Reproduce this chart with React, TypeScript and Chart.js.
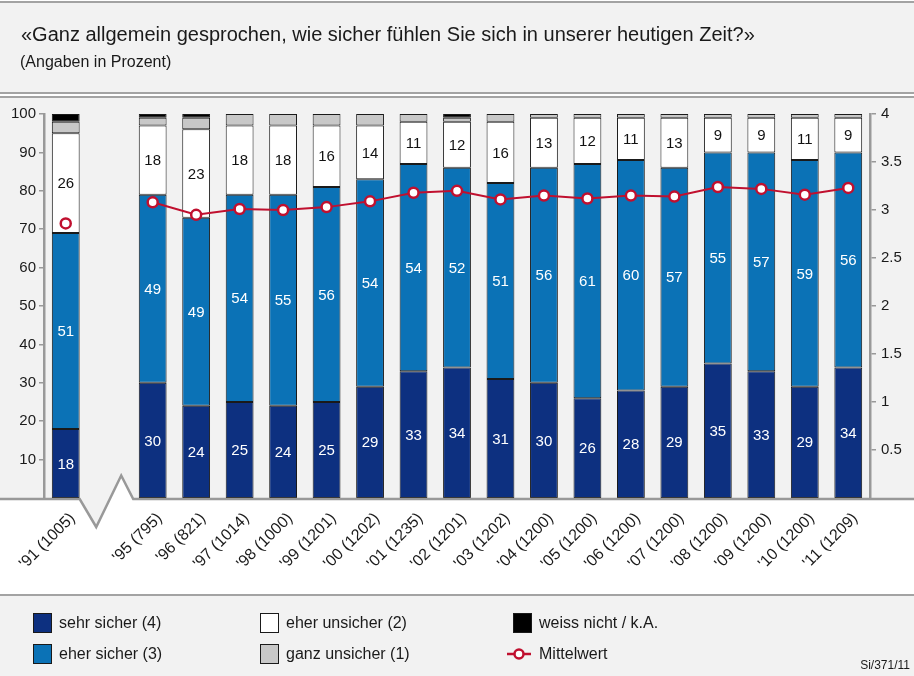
import React, { useEffect, useRef } from 'react';
import { Chart, registerables } from 'chart.js';

Chart.register(...registerables);

const categories = ["'91 (1005)", "", "'95 (795)", "'96 (821)", "'97 (1014)", "'98 (1000)", "'99 (1201)", "'00 (1202)", "'01 (1235)", "'02 (1201)", "'03 (1202)", "'04 (1200)", "'05 (1200)", "'06 (1200)", "'07 (1200)", "'08 (1200)", "'09 (1200)", "'10 (1200)", "'11 (1209)"];
const sehrSicher = [18, null, 30, 24, 25, 24, 25, 29, 33, 34, 31, 30, 26, 28, 29, 35, 33, 29, 34];
const eherSicher = [51, null, 49, 49, 54, 55, 56, 54, 54, 52, 51, 56, 61, 60, 57, 55, 57, 59, 56];
const eherUnsicher = [26, null, 18, 23, 18, 18, 16, 14, 11, 12, 16, 13, 12, 11, 13, 9, 9, 11, 9];
const ganzUnsicher = [3, null, 2, 3, 3, 3, 3, 3, 2, 1, 2, 1, 1, 1, 1, 1, 1, 1, 1];
const weissNicht = [2, null, 1, 1, null, null, null, null, null, 1, null, null, null, null, null, null, null, null, null];
const mittelwert = [2.86, null, 3.08, 2.95, 3.01, 3.0, 3.03, 3.09, 3.18, 3.2, 3.11, 3.15, 3.12, 3.15, 3.14, 3.24, 3.22, 3.16, 3.23];
const leftTicks = [10, 20, 30, 40, 50, 60, 70, 80, 90, 100];
const rightTicks = [0.5, 1, 1.5, 2, 2.5, 3, 3.5, 4];

const NAVY = '#0d3080';
const BLUE = '#0b72b6';
const GRAY = '#c8c8c8';
const RED = '#c0102f';
const FONT = '"Liberation Sans", Arial, sans-serif';

const decorPlugin = {
  id: 'decor',
  beforeDraw(chart: any) {
    const { ctx, width, height, chartArea } = chart;
    ctx.save();
    ctx.fillStyle = '#ffffff';
    ctx.fillRect(0, 0, width, height);
    ctx.fillStyle = '#f2f2f2';
    ctx.fillRect(0, 2, width, 91);
    ctx.fillRect(0, 97, width, chartArea.bottom + 1 - 97);
    ctx.fillRect(0, 595, width, height - 595);
    ctx.strokeStyle = '#a3a3a3';
    ctx.lineWidth = 2;
    [2, 93, 97, 595].forEach((y) => {
      ctx.beginPath();
      ctx.moveTo(0, y);
      ctx.lineTo(width, y);
      ctx.stroke();
    });
    ctx.restore();
  },
  afterDraw(chart: any) {
    const { ctx, width, chartArea, scales } = chart;
    const y0 = chartArea.bottom + 1;
    const cx = scales.x.getPixelForValue(1);
    const p1 = cx - 29.5, p2 = cx - 13, p3 = cx + 12, p4 = cx + 24;
    const dDown = 28, dUp = 23.5;
    const t = dDown / (dDown + dUp);
    const xc = p2 + t * (p3 - p2);
    ctx.save();
    ctx.fillStyle = '#f2f2f2';
    ctx.beginPath();
    ctx.moveTo(p1, y0);
    ctx.lineTo(p2, y0 + dDown);
    ctx.lineTo(xc, y0);
    ctx.closePath();
    ctx.fill();
    ctx.fillStyle = '#ffffff';
    ctx.beginPath();
    ctx.moveTo(xc, y0);
    ctx.lineTo(p3, y0 - dUp);
    ctx.lineTo(p4, y0);
    ctx.closePath();
    ctx.fill();
    ctx.strokeStyle = '#999999';
    ctx.lineWidth = 2.5;
    ctx.lineJoin = 'miter';
    ctx.beginPath();
    ctx.moveTo(0, y0);
    ctx.lineTo(p1, y0);
    ctx.lineTo(p2, y0 + dDown);
    ctx.lineTo(p3, y0 - dUp);
    ctx.lineTo(p4, y0);
    ctx.lineTo(width, y0);
    ctx.stroke();
    ctx.restore();
  },
};

const labelPlugin = {
  id: 'segLabels',
  afterDatasetsDraw(chart: any) {
    const { ctx } = chart;
    ctx.save();
    ctx.font = `15px ${FONT}`;
    ctx.textAlign = 'center';
    ctx.textBaseline = 'middle';
    [0, 1, 2].forEach((di) => {
      const meta = chart.getDatasetMeta(di);
      const data = chart.data.datasets[di].data;
      ctx.fillStyle = di === 2 ? '#111111' : '#ffffff';
      meta.data.forEach((el: any, i: number) => {
        const v = data[i];
        if (v == null) return;
        const y = (el.y + el.base) / 2;
        ctx.fillText(String(v), el.x, y + 1);
      });
    });
    ctx.restore();
  },
};

function ChartCanvas() {
  const ref = useRef<HTMLCanvasElement | null>(null);
  useEffect(() => {
    if (!ref.current) return;
    const barCommon = {
      type: 'bar' as const,
      borderColor: '#1a1a1a',
      borderWidth: 1,
      borderSkipped: false,
      barPercentage: 0.64,
      categoryPercentage: 1,
      yAxisID: 'y',
      order: 1,
    };
    const chart = new Chart(ref.current, {
      type: 'bar',
      data: {
        labels: categories,
        datasets: [
          { ...barCommon, label: 'sehr sicher (4)', data: sehrSicher, backgroundColor: NAVY },
          { ...barCommon, label: 'eher sicher (3)', data: eherSicher, backgroundColor: BLUE },
          { ...barCommon, label: 'eher unsicher (2)', data: eherUnsicher, backgroundColor: '#ffffff' },
          { ...barCommon, label: 'ganz unsicher (1)', data: ganzUnsicher, backgroundColor: GRAY },
          { ...barCommon, label: 'weiss nicht / k.A.', data: weissNicht, backgroundColor: '#000000' },
          {
            type: 'line' as const,
            label: 'Mittelwert',
            data: mittelwert,
            yAxisID: 'y1',
            borderColor: RED,
            borderWidth: 2,
            pointBackgroundColor: '#ffffff',
            pointBorderColor: RED,
            pointBorderWidth: 2.5,
            pointRadius: 5,
            spanGaps: false,
            order: 0,
          } as any,
        ],
      },
      options: {
        responsive: false,
        animation: false,
        layout: { padding: { top: 114, bottom: 82, left: 0, right: 0 } },
        plugins: { legend: { display: false }, tooltip: { enabled: false }, title: { display: false } },
        scales: {
          x: {
            stacked: true,
            grid: { display: false },
            border: { display: false },
            afterFit: (s: any) => { s.height = 96; },
            ticks: {
              autoSkip: false,
              maxRotation: 45,
              minRotation: 45,
              padding: 3,
              labelOffset: 7,
              color: '#1a1a1a',
              font: { family: FONT, size: 16 },
            },
          },
          y: {
            stacked: true,
            position: 'left',
            min: 0,
            max: 100,
            afterFit: (s: any) => { s.width = 44; },
            afterBuildTicks: (s: any) => { s.ticks = leftTicks.map((v) => ({ value: v })); },
            grid: { drawOnChartArea: false, drawTicks: true, tickLength: 5, color: '#999999', lineWidth: 1.5 },
            border: { display: true, color: '#999999', width: 2.5 },
            ticks: { padding: 3, color: '#1a1a1a', font: { family: FONT, size: 15 } },
          },
          y1: {
            position: 'right',
            min: 0,
            max: 4,
            afterFit: (s: any) => { s.width = 44; },
            afterBuildTicks: (s: any) => { s.ticks = rightTicks.map((v) => ({ value: v })); },
            grid: { drawOnChartArea: false, drawTicks: true, tickLength: 6, color: '#999999', lineWidth: 1.5 },
            border: { display: true, color: '#999999', width: 2.5 },
            ticks: {
              padding: 5,
              color: '#1a1a1a',
              font: { family: FONT, size: 15 },
              callback: (v: any) => String(v),
            },
          },
        },
      },
      plugins: [decorPlugin, labelPlugin],
    } as any);
    return () => chart.destroy();
  }, []);
  return <canvas ref={ref} width={914} height={676} style={{ position: 'absolute', left: 0, top: 0, width: 914, height: 676 }} />;
}

function Swatch({ x, y, color }: { x: number; y: number; color: string }) {
  return (
    <div style={{ position: 'absolute', left: x, top: y, width: 17, height: 18, background: color, border: '1px solid #1a1a1a' }} />
  );
}

function LegendText({ x, y, text }: { x: number; y: number; text: string }) {
  return (
    <div style={{ position: 'absolute', left: x, top: y, fontSize: 16, lineHeight: '20px', color: '#1a1a1a', whiteSpace: 'nowrap' }}>{text}</div>
  );
}

export default function App() {
  const row1 = 613;
  const row2 = 644;
  return (
    <div style={{ position: 'absolute', left: 0, top: 0, width: 914, height: 676, overflow: 'hidden', fontFamily: FONT }}>
      <ChartCanvas />
      <div style={{ position: 'absolute', left: 21, top: 22, fontSize: 20, lineHeight: '24px', color: '#1a1a1a', whiteSpace: 'nowrap' }}>
        «Ganz allgemein gesprochen, wie sicher fühlen Sie sich in unserer heutigen Zeit?»
      </div>
      <div style={{ position: 'absolute', left: 20, top: 52, fontSize: 16, lineHeight: '20px', color: '#1a1a1a', whiteSpace: 'nowrap' }}>
        (Angaben in Prozent)
      </div>
      <Swatch x={33} y={row1} color={NAVY} />
      <LegendText x={59} y={row1} text="sehr sicher (4)" />
      <Swatch x={33} y={row2} color={BLUE} />
      <LegendText x={59} y={row2} text="eher sicher (3)" />
      <Swatch x={260} y={row1} color="#ffffff" />
      <LegendText x={286} y={row1} text="eher unsicher (2)" />
      <Swatch x={260} y={row2} color={GRAY} />
      <LegendText x={286} y={row2} text="ganz unsicher (1)" />
      <Swatch x={513} y={row1} color="#000000" />
      <LegendText x={539} y={row1} text="weiss nicht / k.A." />
      <svg style={{ position: 'absolute', left: 505, top: row2, width: 28, height: 20 }} width={28} height={20}>
        <line x1={2} y1={10} x2={26} y2={10} stroke={RED} strokeWidth={2.5} />
        <circle cx={14} cy={10} r={4.5} fill="#ffffff" stroke={RED} strokeWidth={2.5} />
      </svg>
      <LegendText x={539} y={row2} text="Mittelwert" />
      <div style={{ position: 'absolute', right: 4, top: 658, fontSize: 12, lineHeight: '14px', color: '#1a1a1a', whiteSpace: 'nowrap' }}>
        Si/371/11
      </div>
    </div>
  );
}
